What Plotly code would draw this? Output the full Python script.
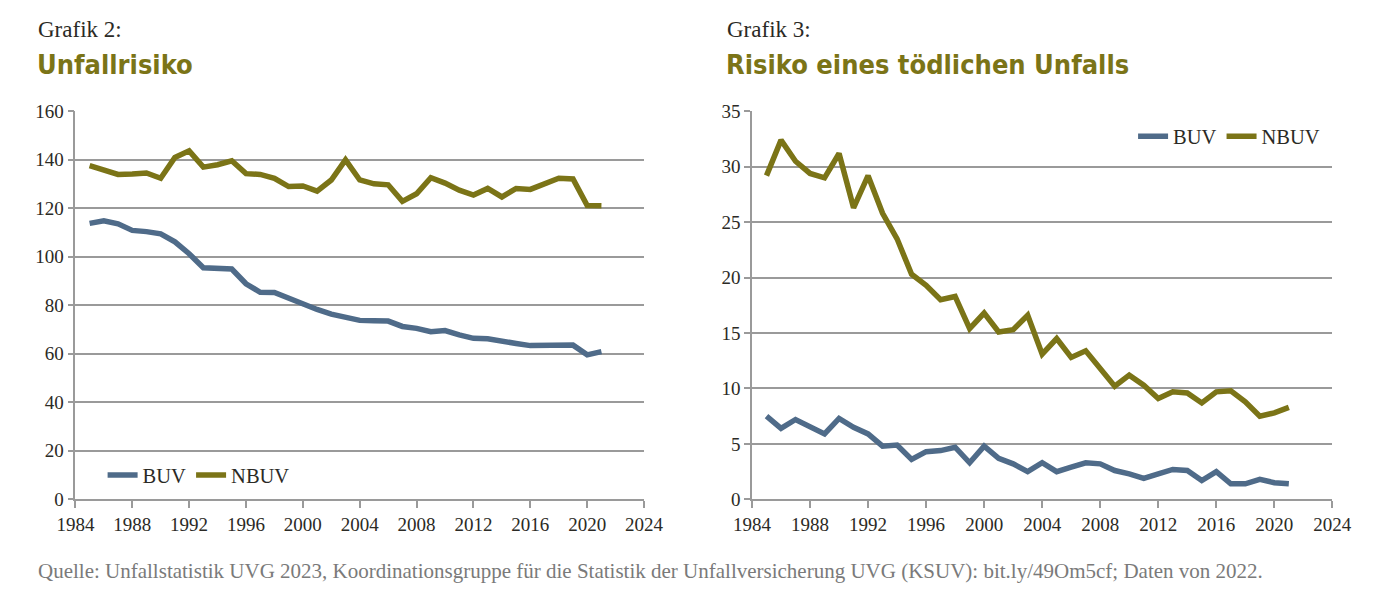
import plotly.graph_objects as go

years = list(range(1985, 2022))

buv_risk = [113.8, 114.9, 113.6, 110.9, 110.4, 109.5, 106.2, 101.3, 95.5, 95.4, 95.0, 88.9,
            85.4, 85.3, 82.8, 80.4, 78.3, 76.4, 75.1, 73.8, 73.6, 73.5, 71.3, 70.5, 69.1,
            69.6, 67.8, 66.4, 66.2, 65.0, 64.3, 63.4, 63.3, 63.6, 63.6, 59.6, 60.9]
nbuv_risk = [137.6, 136.0, 134.0, 134.2, 134.6, 132.4, 141.0, 143.7, 137.0, 138.0, 139.6, 134.3,
             134.0, 132.4, 129.0, 129.2, 127.1, 131.7, 140.0, 131.7, 130.1, 129.7, 122.9, 126.0,
             132.6, 130.4, 127.5, 125.5, 128.2, 124.7, 128.2, 127.8, 130.0, 132.4, 132.1, 121.2, 121.1]

buv_fatal = [7.5, 6.4, 7.2, 6.5, 5.9, 7.3, 6.5, 5.9, 4.8, 4.9, 3.6, 4.3, 4.4, 4.7, 3.3, 4.8,
             3.7, 3.2, 2.5, 3.3, 2.5, 2.9, 3.3, 3.2, 2.6, 2.3, 1.9, 2.3, 2.7, 2.6, 1.7, 2.5,
             1.4, 1.4, 1.8, 1.5, 1.4]
nbuv_fatal = [29.2, 32.4, 30.5, 29.4, 29.0, 31.2, 26.3, 29.2, 25.8, 23.5, 20.3, 19.3, 18.0, 18.3,
              15.4, 16.8, 15.1, 15.3, 16.6, 13.1, 14.5, 12.8, 13.4, 11.7, 10.2, 11.2, 10.3, 9.1,
              9.7, 9.6, 8.7, 9.7, 9.8, 8.8, 7.5, 7.8, 8.3]

x_ticks = list(range(1984, 2025, 4))
series_names = ["BUV", "NBUV"]
titles_small = ["Grafik 2:", "Grafik 3:"]
titles_big = ["Unfallrisiko", "Risiko eines tödlichen Unfalls"]
source_text = ("Quelle: Unfallstatistik UVG 2023, Koordinationsgruppe für die Statistik der "
               "Unfallversicherung UVG (KSUV): bit.ly/49Om5cf; Daten von 2022.")

BLUE = "#4f6b89"
OLIVE = "#7b7417"
GRID = "#9a9a9a"
TXT = "#2b2a25"
SERIF = "Liberation Serif"
COND = "DejaVu Sans Condensed, DejaVu Sans"

W, H = 1400, 603
fig = go.Figure()

fig.add_trace(go.Scatter(x=years, y=buv_risk, name=series_names[0], mode="lines",
                         line=dict(color=BLUE, width=5.5), xaxis="x", yaxis="y", legend="legend"))
fig.add_trace(go.Scatter(x=years, y=nbuv_risk, name=series_names[1], mode="lines",
                         line=dict(color=OLIVE, width=5.5), xaxis="x", yaxis="y", legend="legend"))
fig.add_trace(go.Scatter(x=years, y=buv_fatal, name=series_names[0], mode="lines",
                         line=dict(color=BLUE, width=5.5), xaxis="x2", yaxis="y2", legend="legend2"))
fig.add_trace(go.Scatter(x=years, y=nbuv_fatal, name=series_names[1], mode="lines",
                         line=dict(color=OLIVE, width=5.5), xaxis="x2", yaxis="y2", legend="legend2"))

ydom = [(H - 507) / H, (H - 105) / H]
xcommon = dict(range=[1984, 2024], tickvals=x_ticks, showgrid=False, showline=True,
               linecolor=GRID, linewidth=1.5, ticks="outside", ticklen=7, tickcolor=GRID,
               tickwidth=1.5, tickfont=dict(family=SERIF, size=19, color=TXT), zeroline=False,
               fixedrange=True)
ycommon = dict(showgrid=True, gridcolor=GRID, gridwidth=1.5, showline=True, linecolor=GRID,
               linewidth=1.5, ticks="outside", ticklen=6, tickcolor=GRID, tickwidth=1.5,
               tickfont=dict(family=SERIF, size=19, color=TXT), zeroline=False, domain=ydom,
               fixedrange=True)

fig.update_layout(
    width=W, height=H,
    margin=dict(l=0, r=0, t=0, b=0),
    paper_bgcolor="white", plot_bgcolor="white",
    xaxis=dict(xcommon, domain=[58 / W, 643 / W], anchor="y"),
    yaxis=dict(ycommon, range=[0, 160], dtick=20, anchor="x"),
    xaxis2=dict(xcommon, domain=[754 / W, 1351 / W], anchor="y2"),
    yaxis2=dict(ycommon, range=[0, 35], dtick=5, anchor="x2"),
    legend=dict(orientation="h", x=86 / W, y=(H - 482) / H, xanchor="left", yanchor="middle",
                font=dict(family=SERIF, size=20.5, color=TXT), bgcolor="rgba(0,0,0,0)",
                itemwidth=30),
    legend2=dict(orientation="h", x=1146 / W, y=(H - 131) / H, xanchor="left", yanchor="middle",
                 font=dict(family=SERIF, size=20.5, color=TXT), bgcolor="rgba(0,0,0,0)",
                 itemwidth=30),
    showlegend=True,
)

ann = []
for x0, small, big in [(17, titles_small[0], titles_big[0]), (726, titles_small[1], titles_big[1])]:
    ann.append(dict(text=small, x=x0 / W, y=1 - 20 / H, xref="paper", yref="paper",
                    xanchor="left", yanchor="middle", showarrow=False,
                    font=dict(family=SERIF, size=23, color=TXT)))
    ann.append(dict(text="<b>" + big + "</b>", x=(x0 - 1) / W, y=1 - 56 / H, xref="paper",
                    yref="paper", xanchor="left", yanchor="middle", showarrow=False,
                    font=dict(family=COND, size=27, color=OLIVE)))
ann.append(dict(text=source_text, x=17 / W, y=1 - 581 / H, xref="paper", yref="paper",
                xanchor="left", yanchor="middle", showarrow=False,
                font=dict(family=SERIF, size=21, color="#7a7a7a")))
fig.update_layout(annotations=ann)

fig.write_html("out.html", config={"displayModeBar": False})
